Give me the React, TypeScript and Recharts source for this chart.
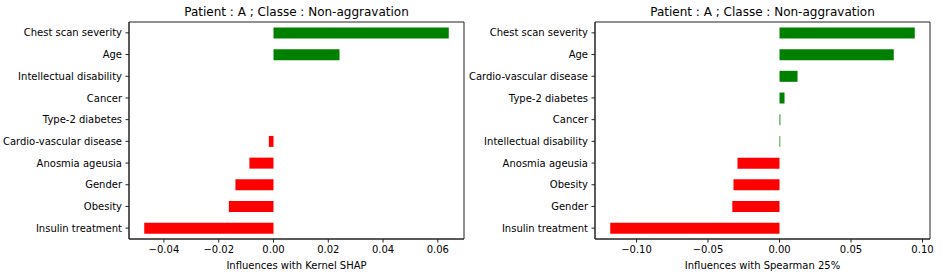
import React from 'react';
import { BarChart, Bar, XAxis, YAxis, Cell, Label, CartesianGrid } from 'recharts';

const title = 'Patient : A ; Classe : Non-aggravation';

const shapFeatures = [
  'Chest scan severity',
  'Age',
  'Intellectual disability',
  'Cancer',
  'Type-2 diabetes',
  'Cardio-vascular disease',
  'Anosmia ageusia',
  'Gender',
  'Obesity',
  'Insulin treatment',
];
const shapValues = [0.064, 0.0241, 0, 0, 0, -0.0017, -0.0088, -0.0139, -0.0163, -0.0472];
const shapTicks = [-0.04, -0.02, 0, 0.02, 0.04, 0.06];

const spearmanFeatures = [
  'Chest scan severity',
  'Age',
  'Cardio-vascular disease',
  'Type-2 diabetes',
  'Cancer',
  'Intellectual disability',
  'Anosmia ageusia',
  'Obesity',
  'Gender',
  'Insulin treatment',
];
const spearmanValues = [0.0946, 0.0799, 0.0126, 0.0035, 0.0006, 0.0005, -0.0294, -0.0322, -0.033, -0.1184];
const spearmanTicks = [-0.1, -0.05, 0, 0.05, 0.1];

const FONT = '"DejaVu Sans", sans-serif';
const INK = '#000';
const SPINE = '#222';

const fmt = (v: number) => (v < 0 ? '\u2212' + Math.abs(v).toFixed(2) : v.toFixed(2));

// plain svg text so long feature names don't wrap
const FeatureTick = ({ x, y, payload }: any) => (
  <text x={x} y={y} dy="0.36em" textAnchor="end" fill={INK} fontSize={10} fontFamily={FONT}>
    {payload.value}
  </text>
);

// frame lines on the plot edges (matplotlib spines)
const edgesH = ({ offset }: any) => [offset.top, offset.top + offset.height];
const edgesV = ({ offset }: any) => [offset.left, offset.left + offset.width];

interface PanelProps {
  features: string[];
  values: number[];
  ticks: number[];
  xLabel: string;
  left: number;
  width: number;
  yWidth: number;
  marginRight: number;
}

function Panel({ features, values, ticks, xLabel, left, width, yWidth, marginRight }: PanelProps) {
  const data = features.map((name, i) => ({ name, value: values[i] }));
  const lo = Math.min(...values);
  const hi = Math.max(...values);
  const pad = (hi - lo) * 0.05;
  const domain = [lo - pad, hi + pad];
  const plotWidth = width - yWidth - marginRight;

  return (
    <div style={{ position: 'absolute', left, top: 0, width, height: 280 }}>
      <div
        style={{
          position: 'absolute',
          left: yWidth,
          width: plotWidth,
          top: 5,
          textAlign: 'center',
          fontFamily: FONT,
          fontSize: 12,
          color: INK,
          lineHeight: '14px',
        }}
      >
        {title}
      </div>
      <BarChart
        width={width}
        height={280}
        data={data}
        layout="vertical"
        margin={{ top: 22, right: marginRight, left: 0, bottom: 0 }}
        barCategoryGap="25%"
      >
        <CartesianGrid
          stroke={SPINE}
          horizontalCoordinatesGenerator={edgesH}
          verticalCoordinatesGenerator={edgesV}
        />
        <XAxis
          type="number"
          domain={domain}
          ticks={ticks}
          allowDataOverflow
          tickFormatter={fmt}
          height={41}
          stroke={SPINE}
          tickSize={3.5}
          tickMargin={3.5}
          tick={{ fill: INK, fontSize: 10, fontFamily: FONT }}
        >
          <Label
            value={xLabel}
            position="insideBottom"
            offset={11}
            style={{ fill: INK, fontSize: 10, fontFamily: FONT }}
          />
        </XAxis>
        <YAxis
          type="category"
          dataKey="name"
          width={yWidth}
          stroke={SPINE}
          tickSize={3.5}
          tickMargin={3.5}
          interval={0}
          tick={<FeatureTick />}
        />
        <Bar dataKey="value" isAnimationActive={false}>
          {data.map((d, i) => (
            <Cell key={i} fill={d.value >= 0 ? '#008000' : '#ff0000'} />
          ))}
        </Bar>
      </BarChart>
    </div>
  );
}

export default function App() {
  return (
    <div style={{ position: 'absolute', left: 0, top: 0, width: 948, height: 280, background: '#fff' }}>
      <Panel
        features={shapFeatures}
        values={shapValues}
        ticks={shapTicks}
        xLabel="Influences with Kernel SHAP"
        left={0}
        width={474}
        yWidth={129}
        marginRight={10}
      />
      <Panel
        features={spearmanFeatures}
        values={spearmanValues}
        ticks={spearmanTicks}
        xLabel="Influences with Spearman 25%"
        left={466}
        width={482}
        yWidth={129}
        marginRight={18}
      />
    </div>
  );
}
